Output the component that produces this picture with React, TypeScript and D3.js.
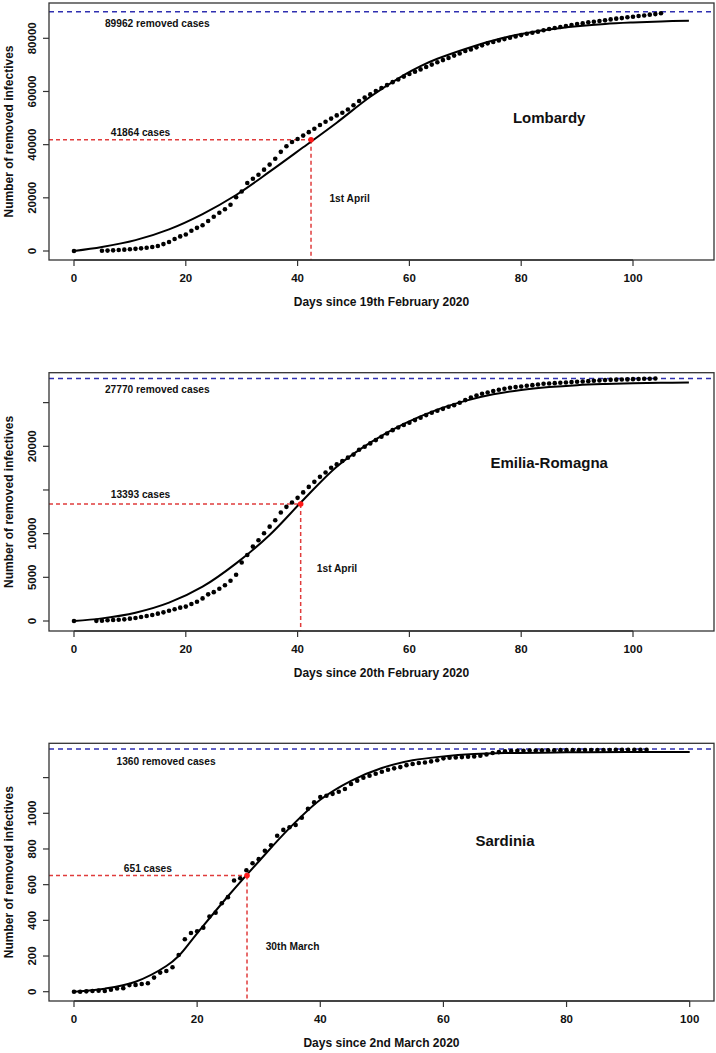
import React from "react";
import * as d3 from "d3";

// ---------------- DATA ----------------
// Lombardy (days since 19th February 2020)
const lombardyDays = [0, 5, 6, 7, 8, 9, 10, 11, 12, 13, 14, 15, 16, 17, 18, 19, 20, 21, 22, 23, 24, 25, 26, 27, 28, 29, 30, 31, 32, 33, 34, 35, 36, 37, 38, 39, 40, 41, 42, 43, 44, 45, 46, 47, 48, 49, 50, 51, 52, 53, 54, 55, 56, 57, 58, 59, 60, 61, 62, 63, 64, 65, 66, 67, 68, 69, 70, 71, 72, 73, 74, 75, 76, 77, 78, 79, 80, 81, 82, 83, 84, 85, 86, 87, 88, 89, 90, 91, 92, 93, 94, 95, 96, 97, 98, 99, 100, 101, 102, 103, 104, 105];
const lombardyRemoved = [0, 100, 150, 250, 350, 500, 650, 800, 1000, 1200, 1500, 1900, 2600, 3400, 4500, 5500, 6200, 7600, 8700, 9700, 11300, 12900, 14400, 15700, 17400, 20200, 22400, 25600, 27200, 28700, 30600, 32500, 34700, 37300, 39400, 41000, 42100, 43400, 44700, 46000, 47400, 48600, 49800, 51000, 52000, 53200, 54800, 56400, 57700, 58900, 60200, 61300, 62400, 63500, 64500, 65600, 66600, 67450, 68300, 69200, 70100, 71000, 71800, 72600, 73500, 74300, 75200, 75800, 76600, 77350, 78100, 78600, 79200, 79700, 80200, 80700, 81200, 81700, 82100, 82500, 83000, 83500, 83900, 84250, 84600, 85000, 85400, 85600, 86000, 86250, 86500, 86750, 87100, 87400, 87600, 87900, 88100, 88400, 88600, 88900, 89100, 89400];
const lombardyFitDays = [0, 5, 11, 17, 23, 29, 35, 41, 47, 53, 59, 62, 65, 70, 75, 80, 85, 90, 95, 100, 105, 110];
const lombardyFit = [0, 1500, 4100, 8150, 13900, 21060, 29830, 39000, 48260, 58030, 66190, 69570, 72300, 76000, 79200, 81600, 83300, 84500, 85400, 85950, 86350, 86600];

// Emilia-Romagna (days since 20th February 2020)
const emiliaDays = [0, 4, 5, 6, 7, 8, 9, 10, 11, 12, 13, 14, 15, 16, 17, 18, 19, 20, 21, 22, 23, 24, 25, 26, 27, 28, 29, 30, 31, 32, 33, 34, 35, 36, 37, 38, 39, 40, 41, 42, 43, 44, 45, 46, 47, 48, 49, 50, 51, 52, 53, 54, 55, 56, 57, 58, 59, 60, 61, 62, 63, 64, 65, 66, 67, 68, 69, 70, 71, 72, 73, 74, 75, 76, 77, 78, 79, 80, 81, 82, 83, 84, 85, 86, 87, 88, 89, 90, 91, 92, 93, 94, 95, 96, 97, 98, 99, 100, 101, 102, 103, 104];
const emiliaRemoved = [0, 20, 30, 80, 110, 150, 190, 270, 340, 460, 570, 690, 840, 990, 1180, 1340, 1530, 1650, 1950, 2210, 2590, 3050, 3300, 3700, 4100, 4600, 5300, 6700, 7550, 8520, 9250, 10050, 10800, 11540, 12420, 13070, 13570, 14100, 14720, 15350, 15930, 16500, 17000, 17550, 17930, 18310, 18700, 19050, 19600, 19950, 20330, 20710, 21090, 21470, 21850, 22160, 22430, 22690, 23000, 23270, 23570, 23840, 24070, 24290, 24520, 24710, 24980, 25290, 25590, 25820, 26010, 26160, 26320, 26470, 26590, 26700, 26780, 26850, 26930, 27000, 27080, 27160, 27190, 27230, 27270, 27310, 27350, 27390, 27420, 27460, 27500, 27540, 27580, 27610, 27630, 27650, 27660, 27690, 27700, 27730, 27740, 27770];
const emiliaFitDays = [0, 5, 11, 17, 23, 29, 35, 41, 47, 53, 59, 65, 70, 75, 80, 85, 90, 95, 100, 105, 110];
const emiliaFit = [0, 300, 950, 2100, 3930, 6600, 9850, 13850, 17670, 20420, 22560, 24200, 25200, 25950, 26450, 26780, 27000, 27130, 27220, 27270, 27310];

// Sardinia (days since 2nd March 2020)
const sardiniaDays = [0, 1, 2, 3, 4, 5, 6, 7, 8, 9, 10, 11, 12, 13, 14, 15, 16, 17, 18, 19, 20, 21, 22, 23, 24, 25, 26, 27, 28, 29, 30, 31, 32, 33, 34, 35, 36, 37, 38, 39, 40, 41, 42, 43, 44, 45, 46, 47, 48, 49, 50, 51, 52, 53, 54, 55, 56, 57, 58, 59, 60, 61, 62, 63, 64, 65, 66, 67, 68, 69, 70, 71, 72, 73, 74, 75, 76, 77, 78, 79, 80, 81, 82, 83, 84, 85, 86, 87, 88, 89, 90, 91, 92, 93];
const sardiniaRemoved = [0, 0, 2, 4, 6, 4, 11, 18, 20, 37, 38, 43, 47, 79, 107, 116, 137, 206, 294, 329, 339, 359, 421, 443, 496, 530, 623, 636, 681, 720, 743, 790, 821, 874, 907, 922, 934, 975, 1025, 1061, 1091, 1098, 1109, 1121, 1136, 1164, 1183, 1199, 1211, 1222, 1233, 1244, 1252, 1259, 1270, 1276, 1282, 1285, 1291, 1297, 1308, 1312, 1313, 1315, 1317, 1319, 1323, 1330, 1338, 1343, 1347, 1349, 1351, 1351, 1352, 1352, 1353, 1353, 1353, 1354, 1354, 1354, 1354, 1355, 1355, 1355, 1355, 1355, 1356, 1356, 1356, 1356, 1356, 1356];
const sardiniaFitDays = [0, 5, 10, 15, 17, 20, 25, 30, 35, 40, 45, 50, 55, 60, 65, 70, 80, 90, 100];
const sardiniaFit = [0, 17, 56, 144, 200, 327, 535, 730, 917, 1076, 1182, 1254, 1297, 1319, 1332, 1338, 1342, 1344, 1344];

// Tick values / labels
const xTicks = [0, 20, 40, 60, 80, 100];
const lombardyYTicks = [0, 20000, 40000, 60000, 80000];
const lombardyYLabels = ["0", "20000", "40000", "60000", "80000"];
const emiliaYTicks = [0, 5000, 10000, 15000, 20000, 25000];
const emiliaYLabels = ["0", "5000", "10000", "", "20000", ""];
const sardiniaYTicks = [0, 200, 400, 600, 800, 1000, 1200];
const sardiniaYLabels = ["0", "200", "400", "600", "800", "1000", ""];

// Annotations
const regionNames = ["Lombardy", "Emilia-Romagna", "Sardinia"];
const xTitles = ["Days since 19th February 2020", "Days since 20th February 2020", "Days since 2nd March 2020"];
const totalRemoved = [89962, 27770, 1360];
const markerDay = [42.4, 40.55, 28.1];
const markerCases = [41864, 13393, 651];
const markerDateLabels = ["1st April", "1st April", "30th March"];

// ---------------- LAYOUT ----------------
const FONT = "'Liberation Sans', Arial, Helvetica, sans-serif";

type Layout = {
  top: number; bottom: number; left: number; right: number;
  x100: number; y0: number; yRefVal: number; yRefPx: number;
  totalPos: [number, number]; casesPos: [number, number]; datePos: [number, number]; regionPos: [number, number];
};

const layouts: Layout[] = [
  { top: 3, bottom: 260, left: 49, right: 714, x100: 633, y0: 251, yRefVal: 80000, yRefPx: 38.3,
    totalPos: [14.9, 85750], casesPos: [11.9, 44750], datePos: [49.3, 19930], regionPos: [85, 50000] },
  { top: 372.7, bottom: 631, left: 49, right: 714, x100: 633, y0: 621, yRefVal: 20000, yRefPx: 446.3,
    totalPos: [14.9, 26530], casesPos: [11.9, 14540], datePos: [47.05, 5990], regionPos: [85, 18130] },
  { top: 743.3, bottom: 1001, left: 49, right: 714, x100: 689.7, y0: 991.7, yRefVal: 1000, yRefPx: 813.3,
    totalPos: [14.95, 1293], casesPos: [12.0, 689], datePos: [35.5, 256], regionPos: [70, 845] },
];

const panels = [
  { days: lombardyDays, vals: lombardyRemoved, fitDays: lombardyFitDays, fit: lombardyFit, yTicks: lombardyYTicks, yLabels: lombardyYLabels },
  { days: emiliaDays, vals: emiliaRemoved, fitDays: emiliaFitDays, fit: emiliaFit, yTicks: emiliaYTicks, yLabels: emiliaYLabels },
  { days: sardiniaDays, vals: sardiniaRemoved, fitDays: sardiniaFitDays, fit: sardiniaFit, yTicks: sardiniaYTicks, yLabels: sardiniaYLabels },
];

function Panel({ i }: { i: number }) {
  const L = layouts[i];
  const P = panels[i];
  const x = d3.scaleLinear().domain([0, 100]).range([74, L.x100]);
  const y = d3.scaleLinear().domain([0, L.yRefVal]).range([L.y0, L.yRefPx]);
  const line = d3
    .line<number>()
    .x((_, k) => x(P.fitDays[k]))
    .y((v) => y(v))
    .curve(d3.curveCatmullRom.alpha(0.5));
  const axisColor = "#333";
  const mx = x(markerDay[i]);
  const my = y(markerCases[i]);
  const annot = { fontFamily: FONT, fontWeight: 700, fontSize: 10.2, fill: "#111" } as const;
  const ty = y(totalRemoved[i]);
  return (
    <g>
      {/* total removed line */}
      <line x1={L.left} x2={L.right} y1={ty} y2={ty} stroke="#2f2fb0" strokeWidth={1.5} strokeDasharray="5,4" />
      {/* red marker lines */}
      <line x1={L.left} x2={mx} y1={my} y2={my} stroke="#e03c3c" strokeWidth={1.5} strokeDasharray="4,3" />
      <line x1={mx} x2={mx} y1={my} y2={L.bottom} stroke="#e03c3c" strokeWidth={1.5} strokeDasharray="4,3" />
      {/* fit curve */}
      <path d={line(P.fit) || ""} fill="none" stroke="#000" strokeWidth={2} />
      {/* observed points */}
      {P.days.map((d, k) => (
        <circle key={k} cx={x(d)} cy={y(P.vals[k])} r={2.3} fill="#000" />
      ))}
      <circle cx={mx} cy={my} r={2.8} fill="#ff1a1a" />
      {/* box */}
      <rect x={L.left} y={L.top} width={L.right - L.left} height={L.bottom - L.top} fill="none" stroke={axisColor} strokeWidth={1.3} />
      {/* x axis */}
      <line x1={x(xTicks[0])} x2={x(xTicks[xTicks.length - 1])} y1={L.bottom} y2={L.bottom} stroke={axisColor} strokeWidth={1.3} />
      {xTicks.map((t) => (
        <g key={"xt" + t}>
          <line x1={x(t)} x2={x(t)} y1={L.bottom} y2={L.bottom + 6} stroke={axisColor} strokeWidth={1.2} />
          <text x={x(t)} y={L.bottom + 22} textAnchor="middle" fontFamily={FONT} fontWeight={700} fontSize={11.5} fill="#111">
            {t}
          </text>
        </g>
      ))}
      {/* y axis */}
      {P.yTicks.map((t, k) => (
        <g key={"yt" + t}>
          <line x1={L.left - 6} x2={L.left} y1={y(t)} y2={y(t)} stroke={axisColor} strokeWidth={1.2} />
          {P.yLabels[k] !== "" && (
            <text transform={`translate(35.5,${y(t)}) rotate(-90)`} textAnchor="middle" fontFamily={FONT} fontWeight={700} fontSize={11.5} fill="#111">
              {P.yLabels[k]}
            </text>
          )}
        </g>
      ))}
      {/* axis titles */}
      <text transform={`translate(13,${(L.top + L.bottom) / 2}) rotate(-90)`} textAnchor="middle" fontFamily={FONT} fontWeight={700} fontSize={12} fill="#111">
        Number of removed infectives
      </text>
      <text x={(L.left + L.right) / 2} y={L.bottom + 45.5} textAnchor="middle" fontFamily={FONT} fontWeight={700} fontSize={12} fill="#111">
        {xTitles[i]}
      </text>
      {/* annotations */}
      <text x={x(L.totalPos[0])} y={y(L.totalPos[1])} dy="0.35em" textAnchor="middle" {...annot}>
        {`${totalRemoved[i]} removed cases`}
      </text>
      <text x={x(L.casesPos[0])} y={y(L.casesPos[1])} dy="0.35em" textAnchor="middle" {...annot}>
        {`${markerCases[i]} cases`}
      </text>
      <text x={x(L.datePos[0])} y={y(L.datePos[1])} dy="0.35em" textAnchor="middle" {...annot}>
        {markerDateLabels[i]}
      </text>
      <text x={x(L.regionPos[0])} y={y(L.regionPos[1])} dy="0.35em" textAnchor="middle" fontFamily={FONT} fontWeight={700} fontSize={15} fill="#111">
        {regionNames[i]}
      </text>
    </g>
  );
}

export default function App() {
  return (
    <svg width={716} height={1053} style={{ position: "absolute", left: 0, top: 0, background: "#fff" }}>
      <rect x={0} y={0} width={716} height={1053} fill="#fff" />
      {[0, 1, 2].map((i) => (
        <Panel key={i} i={i} />
      ))}
    </svg>
  );
}
